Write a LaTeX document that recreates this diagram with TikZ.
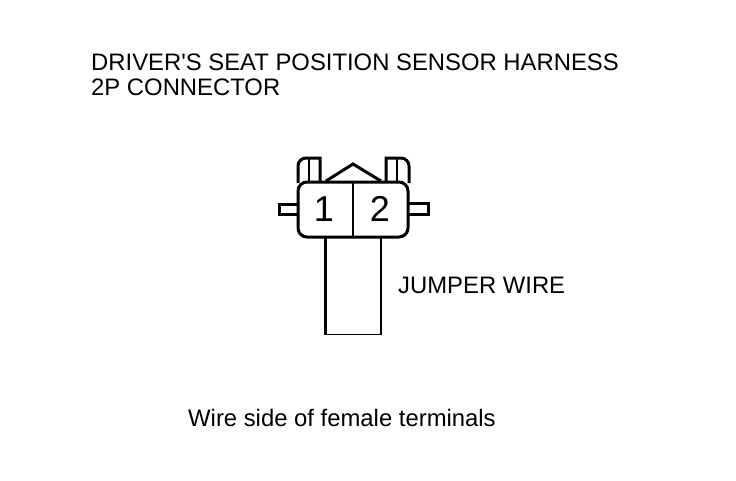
\documentclass[tikz,border=0pt]{standalone}
\usepackage{fontspec}
\setmainfont{Liberation Sans}
\usepackage{xcolor}
\usepackage{tikz}
\usetikzlibrary{positioning}

\begin{document}
\begin{tikzpicture}[x=1pt, y=-1pt]
    \tikzset{label/.style={inner sep=0pt, anchor=west, font=\fontsize{23.85}{26}\selectfont}}
    \tikzset{pin/.style={inner sep=0pt, font=\fontsize{36}{36}\selectfont}}
    \tikzset{thick line/.style={line width=3pt}}
    \tikzset{thin line/.style={line width=1.8pt}}

    \useasboundingbox (0,0) rectangle (736,480);

    \node [label] (title1) at (91,62) {DRIVER\textquotesingle S SEAT POSITION SENSOR HARNESS};
    \node [label] (title2) at (91,87) {2P CONNECTOR};
    \node [label] (jumper) at (398,285) {JUMPER WIRE};
    \node [label] (side) at (188,418) {Wire side of female terminals};

    % latches
    \draw [thick line] (298,183) -- (298,166) to [out=90, in=180] (306,158) -- (320,158) -- (320,183);
    \draw [thin line] (309,158) -- (309,183);
    \draw [thick line] (386,183) -- (386,158) -- (401,158) to [out=0, in=90] (409,166) -- (409,183);
    \draw [thin line] (397,158) -- (397,183);

    % roof
    \draw [thick line] (326,181) -- (353,164) -- (381,181);

    % side tabs
    \draw [thick line] (298,204) -- (279,204) -- (279,214.5) -- (298,214.5);
    \draw [thick line] (408,203) -- (428,203) -- (428,214) -- (408,214);

    % connector body
    \draw [thick line, fill=white, rounded corners=9pt] (298,182) rectangle (408,237);
    \draw [thin line] (353,182) -- (353,237);
    \node [pin] (pin1) at (324,209) {1};
    \node [pin] (pin2) at (380,209) {2};

    % wire
    \draw [thick line] (325,237) -- (325,335);
    \draw [thin line] (325,334.5) -- (381,334.5) -- (381,237);
\end{tikzpicture}
\end{document}
